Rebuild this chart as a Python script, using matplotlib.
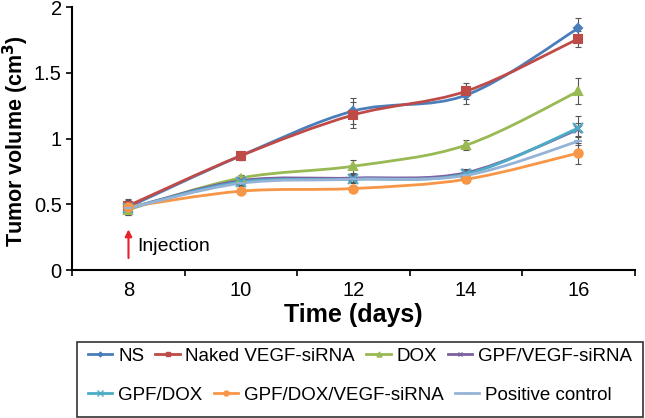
import matplotlib.pyplot as plt
import numpy as np
from matplotlib.path import Path
from matplotlib.patches import PathPatch, Rectangle
from matplotlib.lines import Line2D

plt.rcParams['font.family'] = ['Liberation Sans', 'DejaVu Sans']

days = ["8", "10", "12", "14", "16"]

ns = [0.48, 0.87, 1.21, 1.33, 1.84]
naked = [0.49, 0.87, 1.18, 1.36, 1.76]
dox = [0.46, 0.70, 0.79, 0.95, 1.36]
gpf_vegf = [0.47, 0.68, 0.70, 0.74, 1.07]
gpf_dox = [0.47, 0.67, 0.69, 0.73, 1.08]
gpf_dox_vegf = [0.48, 0.60, 0.62, 0.69, 0.89]
positive = [0.47, 0.66, 0.69, 0.72, 0.98]

ns_err = [0.06, 0.03, 0.10, 0.07, 0.08]
naked_err = [0.04, 0.03, 0.10, 0.06, 0.06]
dox_err = [0.04, 0.02, 0.05, 0.04, 0.10]
gpf_vegf_err = [0.03, 0.02, 0.03, 0.03, 0.05]
gpf_dox_err = [0.03, 0.02, 0.03, 0.03, 0.09]
gpf_dox_vegf_err = [0.03, 0.02, 0.02, 0.03, 0.08]
positive_err = [0.03, 0.02, 0.02, 0.02, 0.03]

series = [
    ("NS", ns, ns_err, "#4A7EBB", "D", 4),
    ("Naked VEGF-siRNA", naked, naked_err, "#BE4B48", "s", 6),
    ("DOX", dox, dox_err, "#98B954", "^", 6),
    ("GPF/VEGF-siRNA", gpf_vegf, gpf_vegf_err, "#7D60A0", "x", 6),
    ("GPF/DOX", gpf_dox, gpf_dox_err, "#4BACC6", "x", 7),
    ("GPF/DOX/VEGF-siRNA", gpf_dox_vegf, gpf_dox_vegf_err, "#F79646", "o", 6),
    ("Positive control", positive, positive_err, "#95B3D7", "_", 6),
]


def smooth_path(x, y):
    # Excel-like smoothed line: bezier segments through each point
    pts = np.column_stack([x, y]).astype(float)
    verts = [pts[0]]
    codes = [Path.MOVETO]
    n = len(pts)
    for i in range(n - 1):
        p0 = pts[i - 1] if i > 0 else pts[i]
        p1 = pts[i]
        p2 = pts[i + 1]
        p3 = pts[i + 2] if i + 2 < n else pts[i + 1]
        c1 = p1 + (p2 - p0) / 6.0
        c2 = p2 - (p3 - p1) / 6.0
        verts += [c1, c2, p2]
        codes += [Path.CURVE4] * 3
    return Path(verts, codes)


fig = plt.figure(figsize=(6.45, 4.18), dpi=100)
ax = fig.add_axes([0.112, 0.354, 0.872, 0.629])

x = np.arange(len(days))
handles = []
for label, vals, err, color, marker, ms in series:
    ax.add_patch(PathPatch(smooth_path(x, vals), facecolor="none",
                           edgecolor=color, linewidth=2, zorder=3))
    ax.errorbar(x, vals, yerr=err, fmt="none", ecolor="#555555",
                elinewidth=0.8, capsize=2, capthick=0.8, zorder=2)
    ax.plot(x, vals, linestyle="none", marker=marker, color=color,
            markersize=ms, markeredgewidth=1.5, zorder=4)
    handles.append(Line2D([], [], color=color, linewidth=2, marker=marker,
                          markersize=ms * 0.6, markeredgewidth=1))

ax.set_xlim(-0.5, len(days) - 0.5)
ax.set_ylim(0, 2)
ax.set_xticks(x)
ax.set_xticklabels(days)
ax.set_xticks(np.arange(-0.5, len(days), 1.0), minor=True)
ax.tick_params(axis="x", which="major", length=0, labelsize=14.5, pad=8)
ax.tick_params(axis="x", which="minor", length=4, width=1.2, direction="out")
ax.set_yticks([0, 0.5, 1, 1.5, 2])
ax.set_yticklabels(["0", "0.5", "1", "1.5", "2"])
ax.tick_params(axis="y", length=4, width=1.2, labelsize=14.5)
for side in ["top", "right"]:
    ax.spines[side].set_visible(False)
for side in ["left", "bottom"]:
    ax.spines[side].set_linewidth(1.5)

ax.set_xlabel("Time (days)", fontsize=18, fontweight="bold", labelpad=2)
ax.set_ylabel("Tumor volume (cm$^\\mathbf{3}$)", fontsize=15.5, fontweight="bold")
ax.yaxis.set_label_coords(-0.074, 0.49)

ax.annotate("", xy=(0, 0.33), xytext=(0, 0.07),
            arrowprops=dict(arrowstyle="-|>", color="#E8202A", lw=1.5,
                            mutation_scale=10))
ax.text(0.08, 0.18, "Injection", fontsize=14, va="center", ha="left")

# legend box
fig.add_artist(Rectangle((0.119, 0.003), 0.878, 0.18, transform=fig.transFigure,
                         facecolor="white", edgecolor="#333333", linewidth=1.2))
leg_kw = dict(frameon=False, fontsize=13.5, handlelength=1.3,
              handletextpad=0.3, borderpad=0, loc="center left")
fig.legend(handles[:4], [s[0] for s in series[:4]], ncol=4,
           bbox_to_anchor=(0.122, 0.148), columnspacing=0.6, **leg_kw)
fig.legend(handles[4:], [s[0] for s in series[4:]], ncol=3,
           bbox_to_anchor=(0.122, 0.055), columnspacing=0.6, **leg_kw)

fig.savefig("out.png", dpi=100)
